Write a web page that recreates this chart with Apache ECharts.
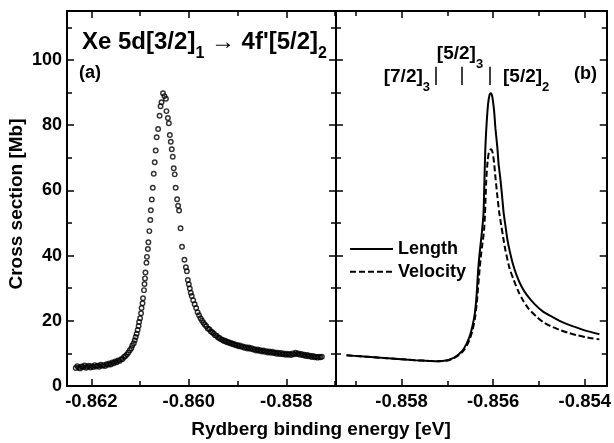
<!DOCTYPE html>
<html><head><meta charset="utf-8">
<script src="https://cdn.jsdelivr.net/npm/echarts@6/dist/echarts.min.js"></script>
<style>html,body{margin:0;padding:0;background:#fff}#c{width:614px;height:443px}</style>
</head><body><div id="c"></div>
<script>
// Panel (a): measured cross section (open circles) [binding energy eV, Mb]
const panelA = [
[-0.86232,5.5],[-0.86229,6.1],[-0.86226,5.7],[-0.86223,5.4],[-0.86220,6.0],[-0.86217,5.8],[-0.86214,6.3],[-0.86211,5.6],
[-0.86208,5.9],[-0.86205,6.2],[-0.86202,5.7],[-0.86199,6.1],[-0.86196,5.8],[-0.86193,6.4],[-0.86190,6.0],[-0.86187,6.2],
[-0.86184,5.9],[-0.86181,6.5],[-0.86178,6.2],[-0.86175,6.4],[-0.86172,6.1],[-0.86169,6.7],[-0.86166,6.5],[-0.86163,6.9],
[-0.86160,6.6],[-0.86157,7.2],[-0.86154,7.0],[-0.86151,7.5],[-0.86148,7.3],[-0.86145,7.8],[-0.86142,7.7],[-0.86139,8.2],
[-0.86136,8.3],[-0.86133,8.9],[-0.86130,9.2],[-0.86127,9.7],[-0.86124,10.3],[-0.86121,11.0],[-0.86118,11.6],[-0.86116,12.4],
[-0.86113,13.1],[-0.86111,14.0],[-0.86109,15.0],[-0.86107,16.0],[-0.86105,17.2],[-0.86103,18.4],[-0.86102,19.6],[-0.86100,20.8],
[-0.86098,22.3],[-0.86097,23.9],[-0.86095,25.4],[-0.86094,26.9],[-0.86092,29.4],[-0.86091,31.3],[-0.86090,33.0],[-0.86089,34.8],
[-0.86087,37.8],[-0.86086,39.6],[-0.86084,42.0],[-0.86083,44.1],[-0.86081,47.5],[-0.86079,50.9],[-0.86078,53.9],[-0.86076,57.2],
[-0.86074,60.8],[-0.86072,65.1],[-0.86070,68.6],[-0.86068,72.2],[-0.86066,76.3],[-0.86063,78.8],[-0.86060,82.9],[-0.86058,85.8],
[-0.86056,87.0],[-0.86053,89.8],[-0.86050,88.9],[-0.86047,88.1],[-0.86046,84.3],[-0.86043,82.2],[-0.86041,80.6],[-0.86039,77.0],
[-0.86037,74.9],[-0.86035,72.6],[-0.86033,70.3],[-0.86031,66.8],[-0.86029,64.9],[-0.86027,60.8],[-0.86024,57.3],[-0.86022,55.3],
[-0.86020,53.8],[-0.86017,48.4],[-0.86014,42.7],[-0.86009,38.7],[-0.86006,36.4],[-0.86004,35.2],[-0.86002,32.5],[-0.86000,31.2],
[-0.85998,29.9],[-0.85996,28.6],[-0.85994,27.6],[-0.85991,26.3],[-0.85988,25.1],[-0.85985,23.9],[-0.85982,22.6],[-0.85979,21.7],
[-0.85976,20.8],[-0.85973,20.1],[-0.85970,19.4],[-0.85967,18.8],[-0.85964,18.3],[-0.85961,17.6],[-0.85958,17.4],[-0.85955,16.8],
[-0.85952,16.5],[-0.85949,16.1],[-0.85946,15.6],[-0.85943,15.4],[-0.85940,14.9],[-0.85937,14.7],[-0.85934,14.3],[-0.85931,14.2],
[-0.85928,13.8],[-0.85925,13.9],[-0.85922,13.4],[-0.85919,13.5],[-0.85916,13.1],[-0.85913,13.2],[-0.85910,12.8],[-0.85907,12.9],
[-0.85904,12.5],[-0.85901,12.6],[-0.85898,12.2],[-0.85895,12.4],[-0.85892,12.0],[-0.85889,12.1],[-0.85886,11.7],[-0.85883,11.9],
[-0.85880,11.5],[-0.85877,11.8],[-0.85874,11.4],[-0.85871,11.6],[-0.85868,11.2],[-0.85865,11.3],[-0.85862,10.9],[-0.85859,11.2],
[-0.85856,10.8],[-0.85853,11.0],[-0.85850,10.6],[-0.85847,10.9],[-0.85844,10.5],[-0.85841,10.7],[-0.85838,10.3],[-0.85835,10.6],
[-0.85832,10.2],[-0.85829,10.5],[-0.85826,10.1],[-0.85823,10.3],[-0.85820,9.9],[-0.85817,10.2],[-0.85814,9.8],[-0.85811,10.1],
[-0.85808,9.7],[-0.85805,10.0],[-0.85802,9.6],[-0.85799,9.9],[-0.85796,9.6],[-0.85793,9.8],[-0.85790,9.5],[-0.85787,10.0],
[-0.85784,9.7],[-0.85781,10.2],[-0.85778,9.8],[-0.85775,10.0],[-0.85772,9.6],[-0.85769,9.8],[-0.85766,9.4],[-0.85763,9.6],
[-0.85760,9.2],[-0.85757,9.5],[-0.85754,9.1],[-0.85751,9.3],[-0.85748,8.9],[-0.85745,9.2],[-0.85742,8.8],[-0.85739,9.0],
[-0.85736,8.7],[-0.85733,9.0],[-0.85730,8.8],[-0.85727,9.0]
];
// Panel (b): calculated curves
const lengthCurve = [
[-0.8592,9.4],[-0.8589,9.1],[-0.8586,8.8],[-0.8583,8.5],[-0.8580,8.2],[-0.8577,7.9],[-0.8574,7.7],[-0.8572,7.6],
[-0.8570,7.9],[-0.8569,8.4],[-0.8568,9.2],[-0.85673,10.0],[-0.85666,11.0],[-0.85658,13.0],[-0.85651,15.3],[-0.85645,18.5],
[-0.8564,22.3],[-0.85636,28.0],[-0.85633,35.0],[-0.8563,40.0],[-0.85627,44.0],[-0.85624,48.0],[-0.85621,53.0],[-0.85619,63.0],
[-0.85617,73.0],[-0.85614,81.0],[-0.85611,86.5],[-0.85608,89.2],[-0.85605,89.8],[-0.85602,88.8],[-0.85598,84.5],[-0.85595,79.0],
[-0.85591,73.4],[-0.85588,68.0],[-0.85584,63.2],[-0.8558,57.5],[-0.85577,53.0],[-0.85573,49.0],[-0.85569,45.0],[-0.85564,41.5],
[-0.85557,37.5],[-0.85549,34.0],[-0.85538,30.5],[-0.85527,28.0],[-0.8551,25.2],[-0.85491,22.8],[-0.8547,21.1],[-0.85455,20.0],
[-0.8543,18.5],[-0.85405,17.3],[-0.8538,16.3],[-0.85368,15.9]
];
const velocityCurve = [
[-0.8592,9.4],[-0.8589,9.1],[-0.8586,8.8],[-0.8583,8.5],[-0.8580,8.2],[-0.8577,7.9],[-0.8574,7.7],[-0.8572,7.6],
[-0.8570,7.8],[-0.8569,8.3],[-0.8568,9.0],[-0.85673,9.7],[-0.85666,10.6],[-0.85658,12.3],[-0.85651,14.4],[-0.85645,17.2],
[-0.8564,20.5],[-0.85636,25.0],[-0.85633,30.0],[-0.8563,35.0],[-0.85627,39.5],[-0.85624,43.0],[-0.8562,47.5],[-0.85618,52.0],
[-0.85615,63.2],[-0.85612,69.0],[-0.85609,71.8],[-0.85605,72.6],[-0.85601,71.5],[-0.85598,68.5],[-0.85595,64.0],[-0.85591,58.5],
[-0.85587,53.5],[-0.85582,49.0],[-0.85578,45.5],[-0.85573,41.5],[-0.85564,36.0],[-0.85555,32.5],[-0.85545,29.0],[-0.85535,26.3],
[-0.85522,23.6],[-0.85505,21.2],[-0.85491,19.6],[-0.85475,18.4],[-0.85455,17.2],[-0.85436,16.3],[-0.85418,15.6],[-0.85395,14.9],
[-0.85368,14.3]
];
// level positions marked in panel (b)
const levelMarks = [-0.85725, -0.85668, -0.85607];
const levelMarkRange = [92.3, 97.9];
const seriesNames = ['Length', 'Velocity'];
const xRangeA = [-0.8625, -0.85698];
const xRangeB = [-0.85943, -0.85352];
const yRange = [0, 115];

const FONT = '"Liberation Sans", Arial, Helvetica, sans-serif';
const BLACK = '#000';

function xAx(grid, range, pos, split, len, labels) {
  return {
    type: 'value', gridIndex: grid, min: range[0], max: range[1], position: pos, splitNumber: split,
    axisLine: {show: true, onZero: false, lineStyle: {color: BLACK, width: 2}},
    axisTick: {show: true, inside: true, length: len, lineStyle: {color: BLACK, width: 1.5}},
    axisLabel: {show: labels, showMinLabel: false, showMaxLabel: false, margin: 6, color: BLACK,
      fontFamily: FONT, fontWeight: 'bold', fontSize: 18.5, formatter: v => v.toFixed(3)},
    splitLine: {show: false}
  };
}
function yAx(grid, pos, interval, len, labels) {
  return {
    type: 'value', gridIndex: grid, min: yRange[0], max: yRange[1], position: pos, interval: interval,
    axisLine: {show: true, onZero: false, lineStyle: {color: BLACK, width: 2}},
    axisTick: {show: true, inside: true, length: len, lineStyle: {color: BLACK, width: 1.5}},
    axisLabel: {show: labels, showMaxLabel: false, margin: 5, color: BLACK,
      fontFamily: FONT, fontWeight: 'bold', fontSize: 18},
    splitLine: {show: false}
  };
}

const chart = echarts.init(document.getElementById('c'), null, {renderer: 'canvas'});

const richSub = (fs, ss, lh) => ({
  m: {fontSize: fs, fontFamily: FONT, fontWeight: 'bold', lineHeight: lh, verticalAlign: 'middle', fill: BLACK},
  s: {fontSize: ss, fontFamily: FONT, fontWeight: 'bold', lineHeight: ss, verticalAlign: 'bottom', fill: BLACK}
});

chart.setOption({
  animation: false,
  backgroundColor: '#fff',
  grid: [
    {left: 67, top: 11, width: 269, height: 375},
    {left: 336, top: 11, width: 271, height: 375}
  ],
  xAxis: [
    xAx(0, xRangeA, 'bottom', 3, 7, true),
    xAx(0, xRangeA, 'bottom', 6, 5, false),
    xAx(0, xRangeA, 'top', 3, 7, false),
    xAx(0, xRangeA, 'top', 6, 5, false),
    xAx(1, xRangeB, 'bottom', 3, 7, true),
    xAx(1, xRangeB, 'bottom', 6, 5, false),
    xAx(1, xRangeB, 'top', 3, 7, false),
    xAx(1, xRangeB, 'top', 6, 5, false)
  ],
  yAxis: [
    yAx(0, 'left', 20, 7, true),
    yAx(0, 'left', 10, 5, false),
    yAx(0, 'right', 20, 7, false),
    yAx(0, 'right', 10, 5, false),
    yAx(1, 'left', 20, 7, false),
    yAx(1, 'left', 10, 5, false),
    yAx(1, 'right', 20, 7, false),
    yAx(1, 'right', 10, 5, false)
  ],
  legend: {
    data: seriesNames.map(n => ({name: n, itemStyle: {opacity: 0}})),
    orient: 'vertical', left: 349, top: 240, padding: 0, itemGap: 4.7,
    itemWidth: 43, itemHeight: 18,
    textStyle: {color: BLACK, fontFamily: FONT, fontWeight: 'bold', fontSize: 18, padding: [0, 0, 0, 0]},
    selectedMode: false
  },
  series: [
    {
      type: 'scatter', name: 'data', xAxisIndex: 0, yAxisIndex: 0, data: panelA,
      symbol: 'circle', symbolSize: 4.5,
      itemStyle: {color: 'rgba(0,0,0,0)', borderColor: BLACK, borderWidth: 1.45},
      emphasis: {disabled: true}, silent: true
    },
    {
      type: 'line', name: seriesNames[0], xAxisIndex: 4, yAxisIndex: 4, data: lengthCurve,
      symbol: 'none', smooth: 0.25, lineStyle: {color: BLACK, width: 2, type: 'solid'},
      itemStyle: {color: BLACK}, emphasis: {disabled: true}, silent: true,
      markLine: {
        silent: true, symbol: ['none', 'none'], label: {show: false},
        lineStyle: {color: BLACK, width: 1.5, type: 'solid'}, emphasis: {disabled: true},
        data: levelMarks.map(x => [{coord: [x, levelMarkRange[0]]}, {coord: [x, levelMarkRange[1]]}])
      }
    },
    {
      type: 'line', name: seriesNames[1], xAxisIndex: 4, yAxisIndex: 4, data: velocityCurve,
      symbol: 'none', smooth: 0.25, lineStyle: {color: BLACK, width: 2, type: [6, 3]},
      itemStyle: {color: BLACK}, emphasis: {disabled: true}, silent: true
    }
  ],
  graphic: [
    {type: 'text', x: 82, y: 42, silent: true, style: {
      text: "{m|Xe 5d[3/2]}{s|1}{m| \u2192 4f'[5/2]}{s|2}", verticalAlign: 'middle', align: 'left',
      rich: richSub(24, 16, 40)}},
    {type: 'text', x: 79, y: 73, silent: true, style: {
      text: '(a)', font: 'bold 18px ' + FONT, fill: BLACK, verticalAlign: 'middle', align: 'left'}},
    {type: 'text', x: 597, y: 74, silent: true, style: {
      text: '(b)', font: 'bold 18px ' + FONT, fill: BLACK, verticalAlign: 'middle', align: 'right'}},
    {type: 'text', x: 430, y: 77, silent: true, style: {
      text: '{m|[7/2]}{s|3}', verticalAlign: 'middle', align: 'right', rich: richSub(19, 13, 34)}},
    {type: 'text', x: 460, y: 54, silent: true, style: {
      text: '{m|[5/2]}{s|3}', verticalAlign: 'middle', align: 'center', rich: richSub(19, 13, 34)}},
    {type: 'text', x: 503, y: 77, silent: true, style: {
      text: '{m|[5/2]}{s|2}', verticalAlign: 'middle', align: 'left', rich: richSub(19, 13, 34)}},
    {type: 'text', x: 17, y: 204, rotation: Math.PI / 2, silent: true, style: {
      text: 'Cross section [Mb]', font: 'bold 19px ' + FONT, fill: BLACK,
      verticalAlign: 'middle', align: 'center'}},
    {type: 'text', x: 321, y: 430, silent: true, style: {
      text: 'Rydberg binding energy [eV]', font: 'bold 19px ' + FONT, fill: BLACK,
      verticalAlign: 'middle', align: 'center'}}
  ]
});
</script></body></html>
